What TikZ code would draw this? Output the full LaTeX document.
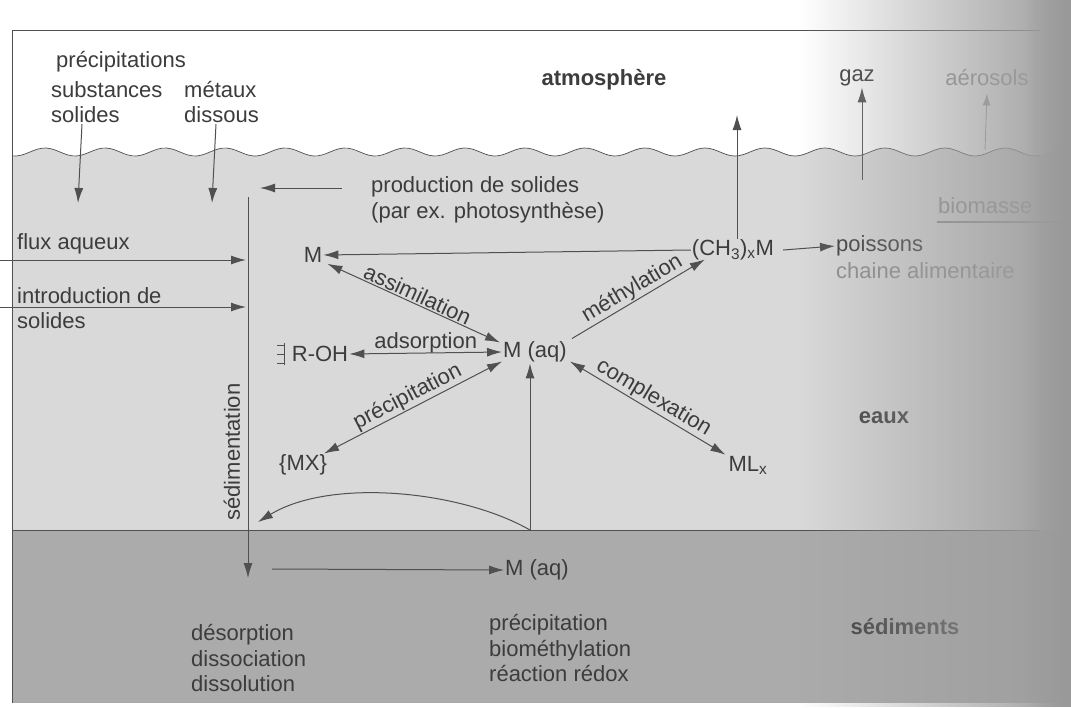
\documentclass[tikz,border=0pt]{standalone}
\usepackage{fontspec}
\setmainfont{Liberation Sans}
\usetikzlibrary{arrows.meta,fadings}
\tikzfading[name=fadeR, left color=transparent!100, right color=transparent!0]
\definecolor{txt}{HTML}{3C3C3C}
\definecolor{ln}{HTML}{505050}
\definecolor{water}{HTML}{D9D9D9}
\definecolor{sed}{HTML}{ABABAB}
\begin{document}
\begin{tikzpicture}[x=1pt,y=-1pt,
  lbl/.style={text=txt, inner sep=1pt, font=\fontsize{22}{25.5}\selectfont},
  bold/.style={lbl, font=\fontsize{22}{25.5}\selectfont\bfseries},
  faded/.style={lbl, text=black!45},
  arr/.style={draw=ln, line width=1pt, -{Latex[length=15pt,width=9pt]}},
  darr/.style={draw=ln, line width=1pt, {Latex[length=15pt,width=9pt]}-{Latex[length=15pt,width=9pt]}},
  plain/.style={draw=ln, line width=0.9pt}]
\useasboundingbox (0,0) rectangle (1071,707);
\fill[white] (0,0) rectangle (1071,707);
% water and sediments
\fill[water] plot[domain=12:1071, samples=240] (\x,{152+4*sin(6*\x)}) -- (1071,530) -- (12,530) -- cycle;
\fill[sed] (12,530) rectangle (1071,703);
\draw[plain, line width=0.7pt] plot[domain=12:1040, samples=240] (\x,{152+4*sin(6*\x)});
\draw[plain, line width=0.7pt] (12,530) -- (1040,530);
\draw[plain, line width=0.7pt] (1040,30) -- (12,30) -- (12,703);

% region labels
\node[bold] (atm) at (604,80) {atmosphère};
\node[bold] (eaux) at (884,418) {eaux};
\node[bold] (sedl) at (905,627) {sédiments};

% precipitation inputs
\node[lbl, anchor=west] (prec) at (55,62) {précipitations};
\node[lbl, anchor=west, align=left] (subs) at (50,102) {substances\\solides};
\node[lbl, anchor=west, align=left] (met) at (183,102) {métaux\\dissous};
\coordinate (subsE) at (78,203);
\coordinate (metE) at (212,203);
\draw[arr] ([xshift=32pt]subs.south west) -- (subsE);
\draw[arr] ([xshift=33pt]met.south west) -- (metE);

% sedimentation line
\coordinate (sedTop) at (248,197);
\coordinate (sedBot) at (248,578);
\draw[arr] (sedTop) -- (sedBot);
\node[lbl, rotate=90] (sedim) at (232,452) {sédimentation};

% production de solides
\node[lbl, anchor=west, align=left] (prod) at (370,200) {production de solides\\(par ex. photosynthèse)};
\coordinate (prodE) at (260,188);
\draw[arr] ([xshift=-28pt]prod.west |- prodE) -- (prodE);

% flux aqueux, introduction
\node[lbl, anchor=west] (flux) at (16,244) {flux aqueux};
\node[lbl, anchor=west, align=left] (intro) at (16,308) {introduction de\\solides};
\coordinate (fluxS) at (0,260);
\coordinate (fluxE) at (246,260);
\coordinate (introS) at (0,307);
\coordinate (introE) at (246,307);
\draw[arr] (fluxS) -- (fluxE);
\draw[arr] (introS) -- (introE);

% species
\node[lbl] (M) at (313,255) {M};
\node[lbl] (maq) at (535,352) {M (aq)};
\node[lbl] (roh) at (320,354) {R-OH};
\node[lbl] (mx) at (303,465) {\{MX\}};
\node[lbl] (ml) at (748,465) {ML\textsubscript{x}};
\node[lbl] (ch3) at (733,250) {(CH\textsubscript{3})\textsubscript{x}M};
% surface symbol
\draw[plain, line width=0.8pt] (284,343) -- (284,365);
\foreach \yy in {345,354,363} \draw[plain, line width=0.8pt] (277,\yy) -- (284,\yy);

% reactions
\draw[arr] (ch3.west) -- (M.east);
\draw[darr] ([xshift=4pt]M.south east) -- node[lbl, sloped, above=0pt] {assimilation} ([xshift=-2pt,yshift=-2pt]maq.north west);
\draw[darr] (roh.east) -- node[lbl, above=-2pt] {adsorption} (maq.west);
\draw[darr] ([xshift=-4pt]mx.north east) -- node[lbl, sloped, above=0pt] {précipitation} ([yshift=2pt]maq.south west);
\draw[darr] ([xshift=2pt,yshift=2pt]maq.south east) -- node[lbl, sloped, above=0pt] {complexation} ([xshift=-2pt]ml.north west);
\draw[arr] ([xshift=4pt,yshift=2pt]maq.north east) -- node[lbl, sloped, above=0pt] {méthylation} ([xshift=14pt,yshift=2pt]ch3.south west);

% up from sediments
\coordinate (bnd) at (530,530);
\coordinate (sedArr) at (258,522);
\draw[arr] (bnd) -- ([xshift=-5pt]maq.south);
\draw[arr] (bnd) .. controls (460,490) and (330,478) .. (sedArr);

% sediment level
\node[lbl] (maq2) at (537,570) {M (aq)};
\coordinate (sedS) at (272,569);
\draw[arr] (sedS) -- (maq2.west);
\node[lbl, anchor=west, align=left] (des) at (190,658) {désorption\\dissociation\\dissolution};
\node[lbl, anchor=west, align=left] (bio) at (488,648) {précipitation\\biométhylation\\réaction rédox};

% to atmosphere
\coordinate (ch3up) at (737,115);
\draw[arr] (ch3.north) ++(4,0) -- (ch3up);
\node[lbl] (gaz) at (857,78) {gaz};
\coordinate (gazS) at (862,180);
\draw[arr] (gazS) -- ([xshift=5pt]gaz.south);

% fish
\node[lbl, anchor=west] (pois) at (835,246) {poissons};
\node[faded, anchor=west] (chaine) at (835,271) {chaine alimentaire};
\draw[arr] (ch3.east) ++(8,0) -- (pois.west);

% faded right side
\node[faded] (aer) at (987,78) {aérosols};
\coordinate (aerS) at (985,150);
\draw[draw=black!40, line width=0.9pt, -{Latex[length=12pt,width=8pt]}] (aerS) -- ([yshift=-6pt]aer.south);
\node[faded, anchor=west] (bioM) at (937,206) {biomasse};
\coordinate (bioS) at (937,222);
\coordinate (bioE) at (1071,222);
\draw[draw=black!45, line width=1.2pt, -{Latex[length=14pt,width=8pt]}] (bioS) -- (bioE);

\fill[black!38, path fading=fadeR] (800,0) rectangle (1071,707);
\fill[black!40, path fading=fadeR] (1025,0) rectangle (1071,707);
\end{tikzpicture}
\end{document}
